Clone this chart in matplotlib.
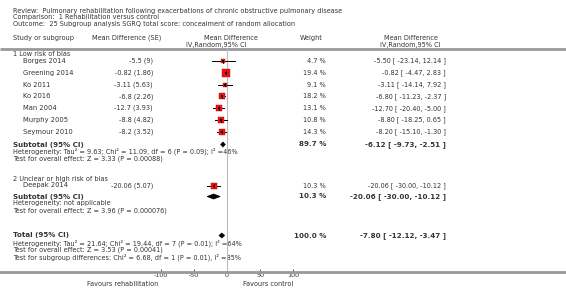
import numpy as np
import matplotlib.pyplot as plt
from matplotlib.patches import Polygon

# subgroup 1: low risk of bias
studies1 = ['Borges 2014', 'Greening 2014', 'Ko 2011', 'Ko 2016', 'Man 2004', 'Murphy 2005', 'Seymour 2010']
md1 = [-5.5, -0.82, -3.11, -6.8, -12.7, -8.8, -8.2]
se1 = [9, 1.86, 5.63, 2.26, 3.93, 4.82, 3.52]
lo1 = [-23.14, -4.47, -14.14, -11.23, -20.40, -18.25, -15.10]
hi1 = [12.14, 2.83, 7.92, -2.37, -5.00, 0.65, -1.30]
w1 = [4.7, 19.4, 9.1, 18.2, 13.1, 10.8, 14.3]

# subgroup 2: unclear or high risk of bias
studies2 = ['Deepak 2014']
md2 = [-20.06]
se2 = [5.07]
lo2 = [-30.00]
hi2 = [-10.12]
w2 = [10.3]

# pooled results: estimate, lower, upper, weight
sub1 = [-6.12, -9.73, -2.51, 89.7]
sub2 = [-20.06, -30.00, -10.12, 10.3]
total = [-7.80, -12.12, -3.47, 100.0]

ticks = [-100, -50, 0, 50, 100]

W, H = 566, 296
fig = plt.figure(figsize=(W / 100, H / 100), dpi=100)
fig.patch.set_facecolor('white')

# text layer in pixel coordinates
tx = fig.add_axes([0, 0, 1, 1])
tx.set_xlim(0, W)
tx.set_ylim(H, 0)
tx.axis('off')

# forest layer: x in mean difference units, y in pixels
zero_px, px_per_unit = 227, 0.665
fx = fig.add_axes([0, 0, 1, 1], facecolor='none')
fx.set_xlim(-zero_px / px_per_unit, (W - zero_px) / px_per_unit)
fx.set_ylim(H, 0)
for s in ['top', 'left', 'right']:
    fx.spines[s].set_visible(False)
fx.spines['bottom'].set_position(('data', 272))
fx.spines['bottom'].set_color('#999999')
fx.spines['bottom'].set_linewidth(2)
fx.set_yticks([])
fx.set_xticks(ticks)
fx.set_xticklabels([str(t) for t in ticks])
fx.tick_params(axis='x', direction='in', length=2.5, width=0.6, color='#333333',
               labelsize=4.6, labelcolor='#333333', pad=1)

txt = '#333333'
fs = 4.7
fsb = 5.1

def t(x, y, s, ha='left', size=fs, bold=False, color=txt):
    tx.text(x, y, s, ha=ha, va='center', fontsize=size, color=color,
            fontweight='bold' if bold else 'normal')

# header
t(13, 11, 'Review:  Pulmonary rehabilitation following exacerbations of chronic obstructive pulmonary disease')
t(13, 17.5, 'Comparison:  1 Rehabilitation versus control')
t(13, 24, 'Outcome:  25 Subgroup analysis SGRQ total score: concealment of random allocation')
t(13, 38, 'Study or subgroup')
t(127, 38, 'Mean Difference (SE)', ha='center')
t(231, 38.5, 'Mean Difference', ha='center')
t(216, 44.5, 'IV,Random,95% CI', ha='center')
t(311, 38, 'Weight', ha='center')
t(411, 38.5, 'Mean Difference', ha='center')
t(410, 44.5, 'IV,Random,95% CI', ha='center')
tx.plot([0, W], [48.5, 48.5], color='#999999', lw=2, solid_capstyle='butt')

fx.plot([0, 0], [48.5, 272], color='#bbbbbb', lw=0.8)

def study_rows(names, md, se, lo, hi, w, ys):
    for n, m, s, l, h, wt, y in zip(names, md, se, lo, hi, w, ys):
        t(23, y, n, size=4.9)
        t(153, y, f'{m:g} ({s:g})', ha='right')
        t(326, y, f'{wt:.1f} %', ha='right')
        t(446, y, f'{m:.2f} [ {l:.2f}, {h:.2f} ]', ha='right')
        fx.plot([l, h], [y, y], color='black', lw=0.7, zorder=3)
        side = 1.6 * np.sqrt(wt)
        fx.plot([m], [y], marker='s', ms=side * 0.72, mfc='#ee1111', mec='#dd0000',
                mew=0.3, zorder=4)
        fx.plot([m], [y], marker='s', ms=1.5, mfc='black', mec='black', mew=0, zorder=5)
        fx.plot([m, m], [y - 1.5, y + 1.5], color='black', lw=0.6, zorder=5)

def diamond(vals, y, hh=2.6):
    m, l, h, _ = vals
    fx.add_patch(Polygon([[l, y], [m, y - hh], [h, y], [m, y + hh]], closed=True,
                         facecolor='black', edgecolor='black', lw=0.4, zorder=4))

def pooled(label, vals, y):
    t(13, y, label, size=fsb, bold=True)
    t(326, y, f'{vals[3]:.1f} %', ha='right', size=fsb, bold=True)
    t(446, y, f'{vals[0]:.2f} [ {vals[1]:.2f}, {vals[2]:.2f} ]', ha='right', size=fsb, bold=True)
    diamond(vals, y)

# subgroup 1
t(13, 54, '1 Low risk of bias')
ys1 = [61 + 11.8 * i for i in range(len(studies1))]
study_rows(studies1, md1, se1, lo1, hi1, w1, ys1)
pooled('Subtotal (95% CI)', sub1, 144.5)
t(13, 151.5, 'Heterogeneity: Tau\u00b2 = 9.63; Chi\u00b2 = 11.09, df = 6 (P = 0.09); I\u00b2 =46%')
t(13, 158.5, 'Test for overall effect: Z = 3.33 (P = 0.00088)')

# subgroup 2
t(13, 178.5, '2 Unclear or high risk of bias')
study_rows(studies2, md2, se2, lo2, hi2, w2, [185.5])
pooled('Subtotal (95% CI)', sub2, 196.5)
t(13, 203.5, 'Heterogeneity: not applicable')
t(13, 210.5, 'Test for overall effect: Z = 3.96 (P = 0.000076)')

# total
pooled('Total (95% CI)', total, 235.5)
t(13, 243, 'Heterogeneity: Tau\u00b2 = 21.64; Chi\u00b2 = 19.44, df = 7 (P = 0.01); I\u00b2 =64%')
t(13, 250, 'Test for overall effect: Z = 3.53 (P = 0.00041)')
t(13, 257, 'Test for subgroup differences: Chi\u00b2 = 6.68, df = 1 (P = 0.01), I\u00b2 =85%')

t(123, 283.5, 'Favours rehabilitation', ha='center')
t(268, 283.5, 'Favours control', ha='center')

fig.savefig('out.png', dpi=100)
